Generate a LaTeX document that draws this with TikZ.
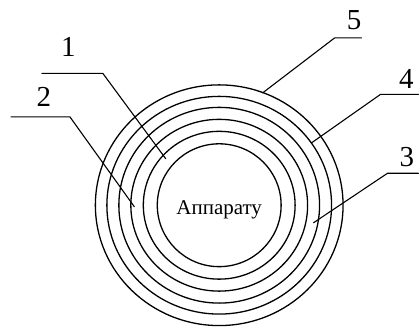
\documentclass[tikz,border=0pt]{standalone}
\usepackage{fontspec}
\setmainfont{Liberation Serif}
\begin{document}
\begin{tikzpicture}[x=1pt,y=-1pt,line cap=round,line join=round]
\path[fill=white] (0,0) rectangle (419,334);
\tikzset{ring/.style={draw=black,line width=1.3pt},leader/.style={draw=black,line width=1.1pt},num/.style={anchor=base,inner sep=0pt,font=\fontsize{29}{30}\selectfont}}
\coordinate (o) at (219.5,205.5);
\foreach \rx/\ry in {124/120.5,112.5/109,100.5/98,88.5/86,76/74,62/61.5}
  \draw[ring] (o) ellipse [x radius=\rx pt,y radius=\ry pt];
\node[anchor=base,inner sep=0pt,font=\fontsize{21}{22}\selectfont] (app) at (219.5,215) {Аппарату};
% labels
\node[num] (n1) at (68.5,56.5) {1}; \node[num] (n2) at (44,107) {2};
\node[num] (n3) at (407.5,166.5) {3}; \node[num] (n4) at (407,89) {4};
\node[num] (n5) at (354.5,30) {5};
% leader lines
\coordinate (s1) at (42,73.5); \coordinate (k1) at (103,73.5); \coordinate (t1) at (166,159);
\coordinate (s2) at (11,117); \coordinate (k2) at (70,117); \coordinate (t2) at (134.5,207);
\coordinate (s3) at (419,173.5); \coordinate (k3) at (388,173.5); \coordinate (t3) at (314,223);
\coordinate (s4) at (419,94.5); \coordinate (k4) at (381,94.5); \coordinate (t4) at (312,143);
\coordinate (s5) at (362,38); \coordinate (k5) at (335,38); \coordinate (t5) at (263,93);
\foreach \i in {1,...,5} \draw[leader] (s\i) -- (k\i) -- (t\i);
\end{tikzpicture}
\end{document}
